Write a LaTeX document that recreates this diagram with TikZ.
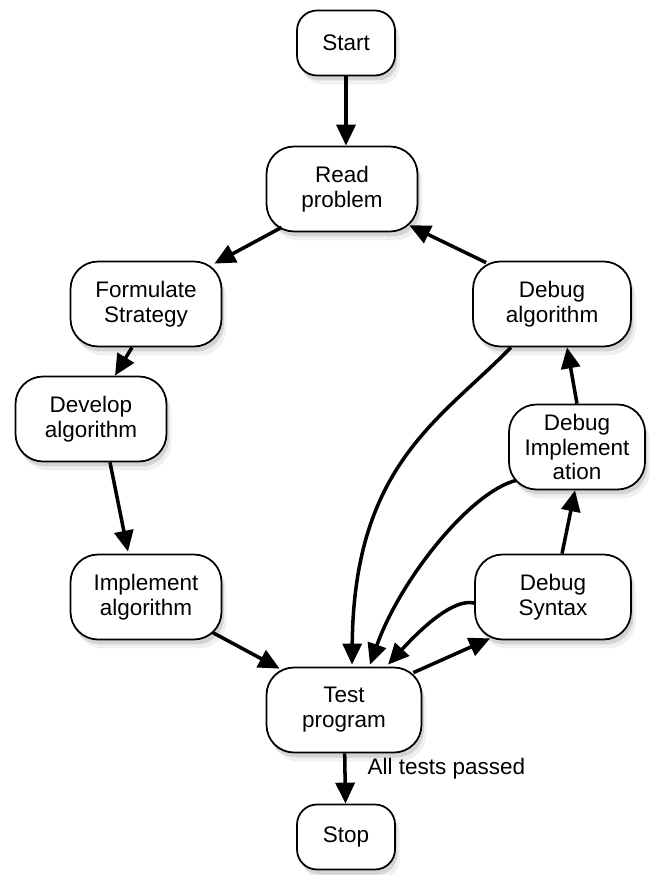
\documentclass[tikz,border=0pt]{standalone}
\usepackage{fontspec}
\setmainfont{Liberation Sans}
\usetikzlibrary{arrows.meta,shadows}
\begin{document}
\begin{tikzpicture}[x=0.02cm,y=-0.02cm,
    box/.style={draw,line width=1pt,fill=white,rounded corners=0.55cm,align=center,inner sep=0pt,
        font=\fontsize{12.8}{14.2}\selectfont,
        drop shadow={shadow xshift=0.1cm,shadow yshift=-0.18cm,opacity=0.12},
        drop shadow={shadow xshift=0.05cm,shadow yshift=-0.1cm,opacity=0.25}},
    wide/.style={box,minimum width=3.02cm,minimum height=1.7cm},
    small/.style={box,minimum width=1.96cm,minimum height=1.3cm,rounded corners=0.4cm},
    flow/.style={line width=2pt,-{Triangle[length=4.2mm,width=3.8mm]}}]
        \useasboundingbox (0,0) rectangle (657,875);

        %draw the steps
        \node[small] (start) at (346,43) {Start};
        \node[wide] (read) at (342,189) {Read\\problem};
        \node[wide] (form) at (146,304) {Formulate\\Strategy};
        \node[wide,minimum width=3.16cm] (dalg) at (552,304) {Debug\\algorithm};
        \node[wide] (dev) at (91,419) {Develop\\algorithm};
        \node[wide,minimum width=2.72cm] (dimp) at (577,447) {Debug\\Implement\\ation};
        \node[wide] (impl) at (146,597) {Implement\\algorithm};
        \node[wide,minimum width=3.12cm] (syn) at (553,597) {Debug\\Syntax};
        \node[wide,minimum width=3.1cm] (test) at (344,710) {Test\\program};
        \node[small] (stop) at (346,837) {Stop};

        %left side of the loop
        \draw[flow] (start) -- ([shift={(4,0)}]read.north);
        \draw[flow] ([shift={(16,-5)}]read.south west) -- ([shift={(-8,3)}]form.north east);
        \draw[flow] ([shift={(-14,0)}]form.south) -- ([shift={(24,0)}]dev.north);
        \draw[flow] ([shift={(19,0)}]dev.south) -- ([shift={(-18,-2)}]impl.north);
        \draw[flow] ([shift={(-10,-8)}]impl.south east) -- ([shift={(14,2)}]test.north west);

        %right side of the loop
        \draw[flow] ([shift={(-9,6)}]test.north east) -- ([shift={(16,-2)}]syn.south west);
        \draw[flow] ([shift={(9,0)}]syn.north) -- ([shift={(-2,0)}]dimp.south);
        \draw[flow] (dimp.north) -- ([shift={(15,0)}]dalg.south);
        \draw[flow] ([shift={(14,2)}]dalg.north west) -- ([shift={(-9,-7)}]read.south east);

        %back to testing
        \draw[flow] ([shift={(-41,0)}]dalg.south) .. controls (440,420) and (354,465) .. ([shift={(8,-2)}]test.north);
        \draw[flow] ([shift={(8,-10)}]dimp.south west) .. controls (470,492) and (400,580) .. ([shift={(26,-2)}]test.north);
        \draw[flow] ([shift={(0,6)}]syn.west) .. controls (452,598) and (418,632) .. ([shift={(44,-2)}]test.north);

        %finish
        \draw[flow] (test) -- node[pos=0.3,anchor=west,inner sep=0pt,xshift=0.42cm,font=\fontsize{12.8}{14.2}\selectfont] (passlbl) {All tests passed} (stop);
      \end{tikzpicture}
\end{document}
